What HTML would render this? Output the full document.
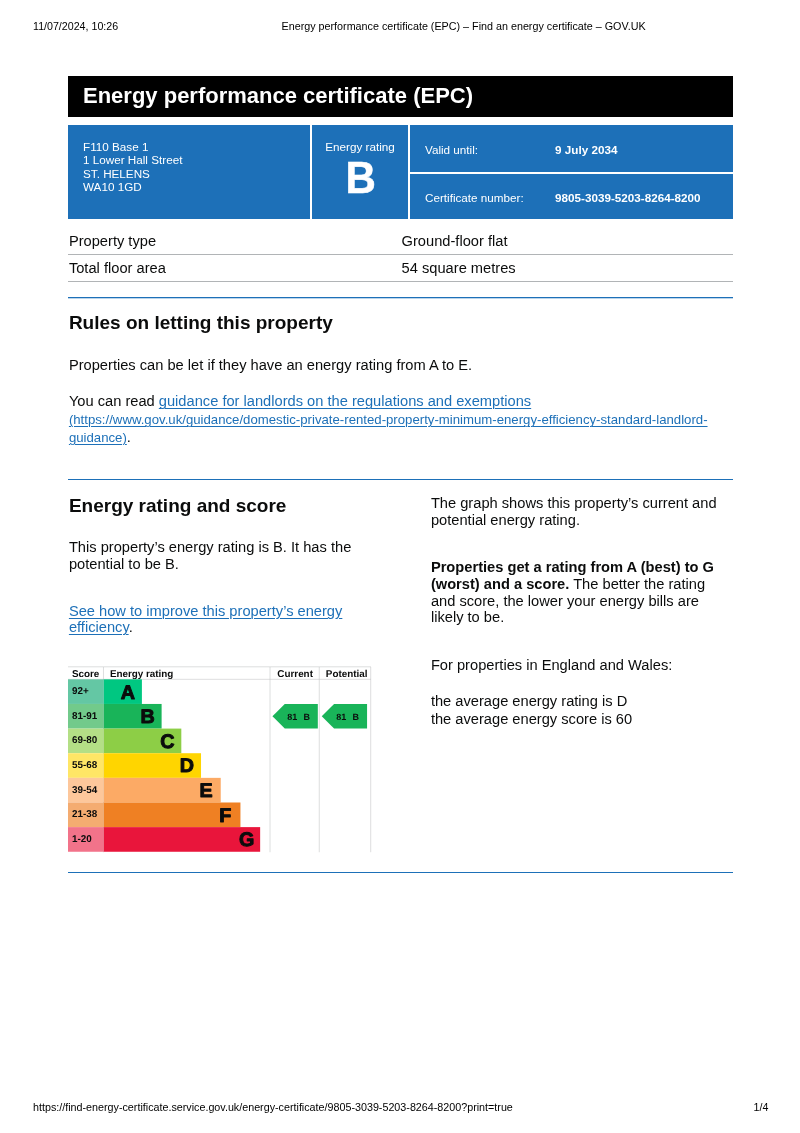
<!DOCTYPE html>
<html lang="en"><head><meta charset="utf-8">
<title>Energy performance certificate (EPC) – Find an energy certificate – GOV.UK</title>
<style>
html,body{margin:0;padding:0;background:#fff;}
body{width:800px;height:1133px;position:relative;overflow:hidden;font-family:"Liberation Sans",Arial,sans-serif;color:#0b0c0c;}
.a{position:absolute;white-space:nowrap;line-height:1;margin:0;padding:0;font-weight:normal;}
.b,b{font-weight:bold;}
.hf{color:#000;}
.bar{position:absolute;left:68px;top:76px;width:665px;height:40.8px;background:#000;}
.blue{position:absolute;background:#1d70b8;}
.w{color:#fff;}
.hl{position:absolute;left:68px;width:665px;height:1px;background:#b1b4b6;}
.bl{position:absolute;left:68px;width:665px;height:1px;background:#1d70b8;}
a{color:#1d70b8;text-decoration:underline;text-decoration-thickness:0.9px;text-underline-offset:2.4px;}
.chart{position:absolute;left:68px;top:666.75px;overflow:visible;}
</style></head><body>
<div class="a hf" style="left:33px;top:20.66px;font-size:10.67px;">11/07/2024, 10:26</div>
<div class="a hf" style="left:281.5px;top:20.62px;font-size:10.76px;">Energy performance certificate (EPC) – Find an energy certificate – GOV.UK</div>
<div class="bar"></div>
<h1 class="a w b" style="left:83px;top:85.00px;font-size:22px;">Energy performance certificate (EPC)</h1>
<div class="blue" style="left:68px;top:124.5px;width:242px;height:94px;"></div>
<div class="blue" style="left:312.4px;top:124.5px;width:95.4px;height:94px;"></div>
<div class="blue" style="left:410.2px;top:124.5px;width:322.8px;height:47.3px;"></div>
<div class="blue" style="left:410.2px;top:174px;width:322.8px;height:44.5px;"></div>
<div class="a w" style="left:83px;top:140.65px;font-size:11.7px;">F110 Base 1</div>
<div class="a w" style="left:83px;top:154.25px;font-size:11.7px;">1 Lower Hall Street</div>
<div class="a w" style="left:83px;top:167.85px;font-size:11.7px;">ST. HELENS</div>
<div class="a w" style="left:83px;top:181.45px;font-size:11.7px;">WA10 1GD</div>
<div class="a w" style="left:312.4px;top:140.65px;font-size:11.7px;width:95.4px;text-align:center;">Energy rating</div>
<div class="a w b" style="left:312.7px;top:155.10px;font-size:45px;width:95.4px;text-align:center;-webkit-text-stroke:0.5px #fff;transform:scaleX(0.935);">B</div>
<div class="a w" style="left:425px;top:144.05px;font-size:11.7px;">Valid until:</div>
<div class="a w b" style="left:555px;top:144.05px;font-size:11.7px;">9 July 2034</div>
<div class="a w" style="left:425px;top:192.45px;font-size:11.7px;">Certificate number:</div>
<div class="a w b" style="left:555px;top:192.45px;font-size:11.7px;">9805-3039-5203-8264-8200</div>
<div class="a" style="left:68.9px;top:234.26px;font-size:14.67px;">Property type</div>
<div class="a" style="left:401.6px;top:234.26px;font-size:14.67px;">Ground-floor flat</div>
<div class="hl" style="top:253.8px;"></div>
<div class="a" style="left:68.9px;top:260.97px;font-size:14.67px;">Total floor area</div>
<div class="a" style="left:401.6px;top:260.97px;font-size:14.67px;">54 square metres</div>
<div class="hl" style="top:281px;"></div>
<div class="bl" style="top:297px;"></div><div class="bl" style="top:298px;opacity:0.3;"></div>
<h2 class="a b" style="left:68.9px;top:312.70px;font-size:19px;">Rules on letting this property</h2>
<p class="a" style="left:68.9px;top:358.06px;font-size:14.67px;">Properties can be let if they have an energy rating from A to E.</p>
<p class="a" style="left:68.9px;top:394.47px;font-size:14.67px;">You can read <a>guidance for landlords on the regulations and exemptions</a></p>
<p class="a" style="left:68.9px;top:413.20px;font-size:13.2px;"><a>(https://www.gov.uk/guidance/domestic-private-rented-property-minimum-energy-efficiency-standard-landlord-</a></p>
<p class="a" style="left:68.9px;top:429.90px;font-size:13.2px;"><a>guidance)</a><span style="font-size:14.67px">.</span></p>
<div class="bl" style="top:479px;"></div>
<h2 class="a b" style="left:68.9px;top:495.75px;font-size:19px;">Energy rating and score</h2>
<p class="a" style="left:68.9px;top:540.16px;font-size:14.67px;">This property’s energy rating is B. It has the</p>
<p class="a" style="left:68.9px;top:556.96px;font-size:14.67px;">potential to be B.</p>
<p class="a" style="left:68.9px;top:603.87px;font-size:14.67px;"><a>See how to improve this property’s energy</a></p>
<p class="a" style="left:68.9px;top:620.37px;font-size:14.67px;"><a>efficiency</a>.</p>
<p class="a" style="left:430.9px;top:495.87px;font-size:14.67px;">The graph shows this property’s current and</p>
<p class="a" style="left:430.9px;top:512.66px;font-size:14.67px;">potential energy rating.</p>
<p class="a b" style="left:430.9px;top:560.16px;font-size:14.67px;">Properties get a rating from A (best) to G</p>
<p class="a" style="left:430.9px;top:576.91px;font-size:14.67px;"><b>(worst) and a score.</b> The better the rating</p>
<p class="a" style="left:430.9px;top:593.56px;font-size:14.67px;">and score, the lower your energy bills are</p>
<p class="a" style="left:430.9px;top:610.16px;font-size:14.67px;">likely to be.</p>
<p class="a" style="left:430.9px;top:657.66px;font-size:14.67px;">For properties in England and Wales:</p>
<p class="a" style="left:430.9px;top:694.46px;font-size:14.67px;">the average energy rating is D</p>
<p class="a" style="left:430.9px;top:711.66px;font-size:14.67px;">the average energy score is 60</p>
<svg class="chart" width="303" height="185.25" viewBox="0 0 615 376" role="img" font-family="Liberation Sans, Arial, sans-serif" font-weight="bold" fill="#0b0c0c" text-rendering="geometricPrecision">
<g stroke="#bfc1c3" stroke-width="1.1" fill="none"><line x1="0" y1="-0.4" x2="615" y2="-0.4"/><line x1="0" y1="25" x2="615" y2="25"/><line x1="72" y1="0" x2="72" y2="376"/><line x1="410" y1="0" x2="410" y2="376"/><line x1="510" y1="0" x2="510" y2="376"/><line x1="614.4" y1="0" x2="614.4" y2="376"/></g>
<rect x="72" y="25" width="78" height="50" fill="#00c781"/><rect x="0" y="25" width="72" height="50" fill="#64c7a4"/>
<text x="8" y="55" font-size="20">92+</text><text x="107" y="64" font-size="40" stroke="#0b0c0c" stroke-width="2" stroke-linejoin="round">A</text>
<rect x="72" y="75" width="118" height="50" fill="#19b459"/><rect x="0" y="75" width="72" height="50" fill="#72ca8b"/>
<text x="8" y="105" font-size="20">81-91</text><text x="147" y="114" font-size="40" stroke="#0b0c0c" stroke-width="2" stroke-linejoin="round">B</text>
<rect x="72" y="125" width="158" height="50" fill="#8dce46"/><rect x="0" y="125" width="72" height="50" fill="#b4df86"/>
<text x="8" y="155" font-size="20">69-80</text><text x="187" y="164" font-size="40" stroke="#0b0c0c" stroke-width="2" stroke-linejoin="round">C</text>
<rect x="72" y="175" width="198" height="50" fill="#ffd500"/><rect x="0" y="175" width="72" height="50" fill="#ffe666"/>
<text x="8" y="205" font-size="20">55-68</text><text x="227" y="214" font-size="40" stroke="#0b0c0c" stroke-width="2" stroke-linejoin="round">D</text>
<rect x="72" y="225" width="238" height="50" fill="#fcaa65"/><rect x="0" y="225" width="72" height="50" fill="#fdc79b"/>
<text x="8" y="255" font-size="20">39-54</text><text x="267" y="264" font-size="40" stroke="#0b0c0c" stroke-width="2" stroke-linejoin="round">E</text>
<rect x="72" y="275" width="278" height="50" fill="#ef8023"/><rect x="0" y="275" width="72" height="50" fill="#f4ac71"/>
<text x="8" y="305" font-size="20">21-38</text><text x="307" y="314" font-size="40" stroke="#0b0c0c" stroke-width="2" stroke-linejoin="round">F</text>
<rect x="72" y="325" width="318" height="50" fill="#e9153b"/><rect x="0" y="325" width="72" height="50" fill="#f2738a"/>
<text x="8" y="355" font-size="20">1-20</text><text x="347" y="364" font-size="40" stroke="#0b0c0c" stroke-width="2" stroke-linejoin="round">G</text>
<g font-size="20"><text x="8" y="20">Score</text><text x="85" y="20">Energy rating</text><text x="461" y="20" text-anchor="middle">Current</text><text x="565.5" y="20" text-anchor="middle">Potential</text></g>
<polygon points="415,100 440,75 507,75 507,125 440,125" fill="#19b459"/>
<text x="455.2" y="106.8" font-size="18.3" text-anchor="middle">81</text><text x="484.6" y="106.8" font-size="18.3" text-anchor="middle">B</text>
<polygon points="515,100 540,75 607,75 607,125 540,125" fill="#19b459"/>
<text x="554.7" y="106.8" font-size="18.3" text-anchor="middle">81</text><text x="584.1" y="106.8" font-size="18.3" text-anchor="middle">B</text>
</svg>
<div class="bl" style="top:872px;"></div>
<div class="a hf" style="left:33px;top:1101.63px;font-size:10.74px;">https://find-energy-certificate.service.gov.uk/energy-certificate/9805-3039-5203-8264-8200?print=true</div>
<div class="a hf" style="left:753.5px;top:1101.66px;font-size:10.67px;">1/4</div>
</body></html>
